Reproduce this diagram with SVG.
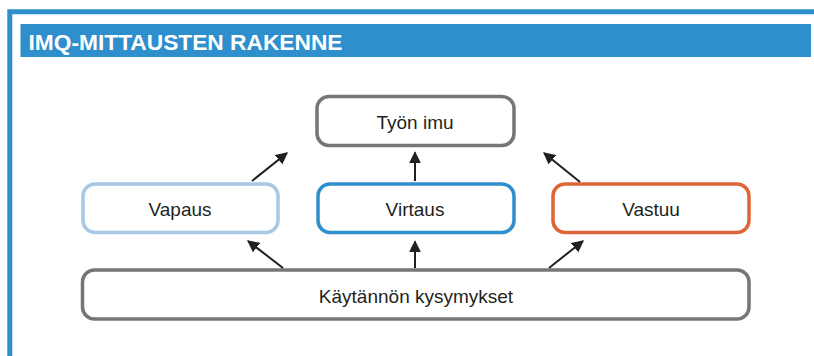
<svg xmlns="http://www.w3.org/2000/svg" width="814" height="356" viewBox="0 0 814 356">
  <style>
    .box { fill: #ffffff; stroke-width: 3.5; }
    .grey { stroke: #767676; }
    .light { stroke: #a7c8e7; }
    .blue { stroke: #2e8fcc; }
    .orange { stroke: #df6437; }
    .label { font-family: "Liberation Sans", Arial, sans-serif; font-size: 19px; fill: #231f20; text-anchor: middle; }
    .conn { stroke: #231f20; stroke-width: 2; fill: none; marker-end: url(#head); }
  </style>
  <defs>
    <marker id="head" viewBox="0 0 10 10" refX="9" refY="5" markerUnits="userSpaceOnUse" markerWidth="12" markerHeight="13" orient="auto">
      <path d="M0,0 L10,5 L0,10 z" fill="#231f20"/>
    </marker>
  </defs>

  <rect width="814" height="356" fill="#ffffff"/>

  <!-- panel frame and title bar -->
  <path d="M9.8,356 V11.8 H814" fill="none" stroke="#2e8fcc" stroke-width="5"/>
  <rect x="20.5" y="24" width="790.5" height="33" fill="#2e8fcc"/>
  <text x="28.5" y="49.5" font-family="Liberation Sans, Arial, sans-serif" font-weight="bold" font-size="22" fill="#ffffff" textLength="314" lengthAdjust="spacingAndGlyphs">IMQ-MITTAUSTEN RAKENNE</text>

  <g id="tyon-imu">
    <rect class="box grey" x="317" y="96.5" width="197" height="49" rx="12"/>
    <text class="label" x="415" y="129">Työn imu</text>
  </g>
  <g id="vapaus">
    <rect class="box light" x="83" y="184" width="195" height="48.5" rx="12"/>
    <text class="label" x="180" y="216">Vapaus</text>
  </g>
  <g id="virtaus">
    <rect class="box blue" x="318" y="184" width="196" height="48.5" rx="12"/>
    <text class="label" x="415" y="216">Virtaus</text>
  </g>
  <g id="vastuu">
    <rect class="box orange" x="553" y="184" width="196" height="48.5" rx="12"/>
    <text class="label" x="651" y="216">Vastuu</text>
  </g>
  <g id="kaytannon-kysymykset">
    <rect class="box grey" x="82.5" y="270" width="666.5" height="49" rx="12"/>
    <text class="label" x="416" y="303">Käytännön kysymykset</text>
  </g>

  <g id="connectors">
    <line class="conn" x1="252" y1="181" x2="287" y2="153"/>
    <line class="conn" x1="415" y1="181" x2="415" y2="152.5"/>
    <line class="conn" x1="580" y1="182" x2="544" y2="153"/>
    <line class="conn" x1="283" y1="268" x2="248" y2="241"/>
    <line class="conn" x1="415" y1="268" x2="415" y2="241.5"/>
    <line class="conn" x1="549" y1="268" x2="583" y2="241"/>
  </g>
</svg>
